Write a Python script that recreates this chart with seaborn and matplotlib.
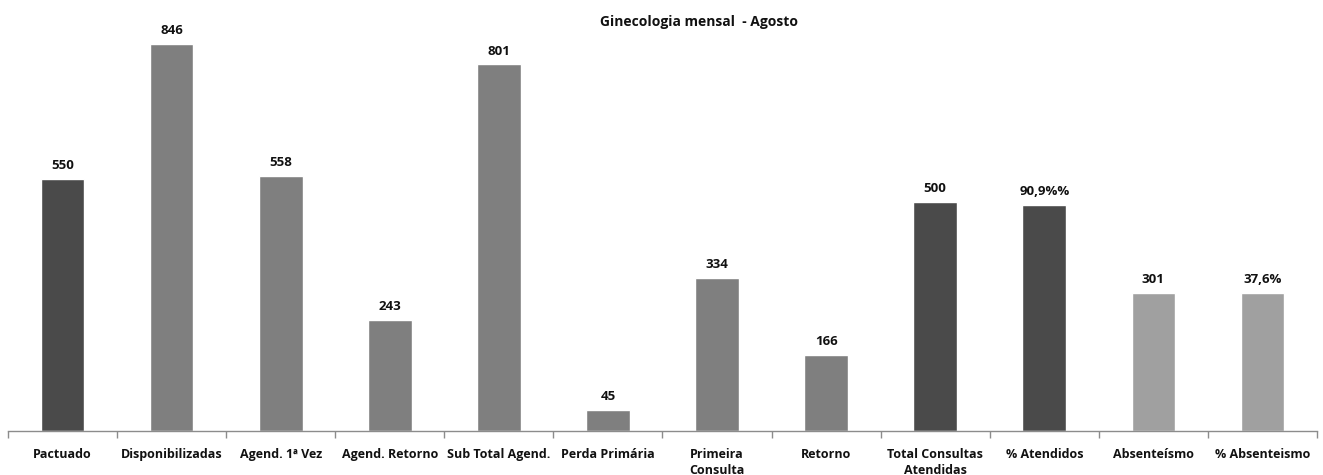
import pandas as pd
import matplotlib.pyplot as plt
import seaborn as sns
from matplotlib.ticker import FixedLocator

categorias = ['Pactuado', 'Disponibilizadas', 'Agend. 1ª Vez', 'Agend. Retorno',
              'Sub Total Agend.', 'Perda Primária', 'Primeira\nConsulta', 'Retorno',
              'Total Consultas\nAtendidas', '% Atendidos', 'Absenteísmo', '% Absenteismo']
valores = [550, 846, 558, 243, 801, 45, 334, 166, 500, 495, 301, 301]
rotulos = ['550', '846', '558', '243', '801', '45', '334', '166', '500', '90,9%%', '301', '37,6%']
cores = ['#4a4a4a', '#7f7f7f', '#7f7f7f', '#7f7f7f', '#7f7f7f', '#7f7f7f', '#7f7f7f',
         '#7f7f7f', '#4a4a4a', '#4a4a4a', '#a0a0a0', '#a0a0a0']

df = pd.DataFrame({'categoria': categorias, 'valor': valores})

sns.set_style('white')
plt.rcParams['font.family'] = ['Open Sans', 'DejaVu Sans']

fig = plt.figure(figsize=(13.23, 4.75), dpi=100)
ax = fig.add_axes([8 / 1323, 0.0926, 1309 / 1323, 0.8574])

sns.barplot(data=df, x='categoria', y='valor', hue='categoria', palette=cores,
            width=0.4, legend=False, saturation=1, ax=ax)

for patch, txt in zip(ax.patches, rotulos):
    ax.annotate(txt, (patch.get_x() + patch.get_width() / 2, patch.get_height()),
                xytext=(0, 5), textcoords='offset points', ha='center', va='bottom',
                fontsize=9.5, fontweight='bold', color='#111111')

ax.set_ylim(0, 890)
ax.set_xlim(-0.5, len(categorias) - 0.5)
ax.set_xlabel('')
ax.set_ylabel('')
ax.set_yticks([])
for s in ['top', 'right', 'left']:
    ax.spines[s].set_visible(False)
ax.spines['bottom'].set_color('#8c8c8c')
ax.spines['bottom'].set_linewidth(1)

ax.xaxis.set_minor_locator(FixedLocator([i - 0.5 for i in range(len(categorias) + 1)]))
ax.tick_params(axis='x', which='minor', length=5, width=1, color='#8c8c8c', direction='out', bottom=True)
ax.tick_params(axis='x', which='major', length=0, pad=12.5)
plt.setp(ax.get_xticklabels(), fontsize=9, fontweight='bold', color='#111111',
         va='top', linespacing=1.25)

fig.text(699 / 1323, 1 - 22 / 475, 'Ginecologia mensal  - Agosto', ha='center', va='center',
         fontsize=10, fontweight='bold', color='#111111')

fig.savefig('out.png', dpi=100)
plt.close()
